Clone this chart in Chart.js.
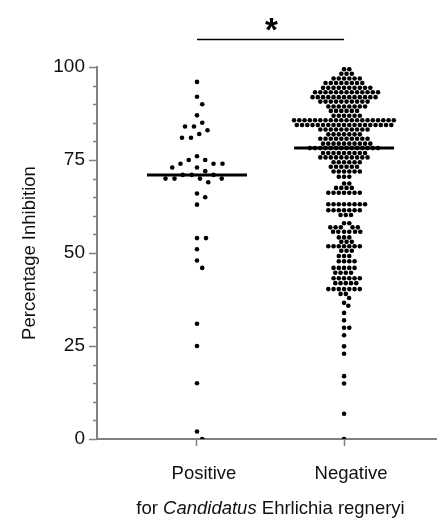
<!DOCTYPE html>
<html>
<head>
<meta charset="utf-8">
<script src="https://cdn.jsdelivr.net/npm/chart.js@4"></script>
<style>
  body { margin: 0; background: #fff; }
  canvas { display: block; }
</style>
</head>
<body>
<canvas id="dotChart" width="439" height="520"></canvas>
<script>
// groups on the x axis
const groups = ['Positive', 'Negative'];

// percentage inhibition
const positiveValues = [
  96, 92, 90, 87, 85, 84, 84, 83, 82, 81, 81,
  76, 75, 75, 74, 74, 74, 73, 73, 72, 71, 71, 71,
  70, 70, 70, 70, 69, 66, 65, 63,
  54, 54, 51, 48, 46, 31, 25, 15, 2, 0
];

// negative group: [value, how many dots in that row]
const negativeRows = [
  [99.4, 2], [98.2, 3], [96.9, 6], [95.7, 8], [94.4, 10], [93.2, 13],
  [91.9, 13], [90.7, 10], [89.4, 8], [88.2, 6], [86.9, 6], [85.7, 20],
  [84.4, 19], [83.2, 10], [81.9, 7], [80.7, 10], [79.4, 10], [78.2, 14],
  [76.9, 9], [75.7, 10], [74.4, 6], [73.2, 6], [71.9, 6], [70.5, 3],
  [68.7, 2], [67.5, 4], [66.2, 7], [63.1, 8], [61.5, 7], [60.2, 3],
  [58, 2], [56.9, 5], [55.7, 6], [54.2, 3], [53, 3], [51.8, 7],
  [50.6, 3], [49.2, 3], [47.8, 4], [46, 5], [44.7, 4],
  [43.2, 6], [41.9, 5], [40.3, 7], [39, 2], [37.9, 1], [36.6, 1],
  [35.8, 1], [33.9, 1], [31.9, 1], [29.9, 2], [27.9, 1], [24.9, 1],
  [22.9, 1], [16.9, 1], [14.9, 1], [6.8, 1], [0, 1]
];
const negativeValues = [];
negativeRows.forEach(([v, n]) => { for (let i = 0; i < n; i++) negativeValues.push(v); });

const yTickLabels = [0, 25, 50, 75, 100];

const axisGray = '#808080';
const textColor = '#111';
const fontFamily = "'Liberation Sans', Arial, sans-serif";
const fontSize = 18.5;

function median(arr) {
  const s = [...arr].sort((a, b) => a - b);
  const m = Math.floor(s.length / 2);
  return s.length % 2 ? s[m] : (s[m - 1] + s[m]) / 2;
}

// simple beeswarm: sorted from the top, each dot goes to the nearest free spot
function swarm(values, center, xScale, yScale, gap) {
  const pxPerUnit = xScale.getPixelForValue(center + 1) - xScale.getPixelForValue(center);
  const order = values.map((v, i) => i).sort((a, b) => values[b] - values[a]);
  const placed = [];
  const out = new Array(values.length);
  for (const i of order) {
    const py = yScale.getPixelForValue(values[i]);
    let dx = 0;
    for (let k = 0; k < 2000; k++) {
      const cand = (k % 2 ? 1 : -1) * Math.ceil(k / 2) * 0.25;
      const hit = placed.some(p => (p.x - cand) ** 2 + (p.y - py) ** 2 < gap * gap);
      if (!hit) { dx = cand; break; }
    }
    placed.push({ x: dx, y: py });
    out[i] = { x: center + dx / pxPerUnit, y: values[i] };
  }
  return out;
}

const extras = {
  id: 'extras',
  afterDatasetsDraw(chart) {
    const { ctx, scales: { x, y } } = chart;
    ctx.save();
    // y ticks, long ones at the labels
    ctx.strokeStyle = axisGray;
    ctx.lineWidth = 1.5;
    y.ticks.forEach(t => {
      const py = Math.round(y.getPixelForValue(t.value)) + 0.5;
      const len = t.value % 25 === 0 ? 8 : 4;
      ctx.beginPath();
      ctx.moveTo(y.right - len, py);
      ctx.lineTo(y.right, py);
      ctx.stroke();
    });
    // medians
    ctx.strokeStyle = '#000';
    ctx.lineWidth = 3;
    [positiveValues, negativeValues].forEach((vals, i) => {
      const cx = x.getPixelForValue(i + 1);
      const py = y.getPixelForValue(median(vals));
      ctx.beginPath();
      ctx.moveTo(cx - 50, py);
      ctx.lineTo(cx + 50, py);
      ctx.stroke();
    });
    // significance bar
    const x1 = x.getPixelForValue(1), x2 = x.getPixelForValue(2);
    ctx.lineWidth = 1.5;
    ctx.beginPath();
    ctx.moveTo(x1, 39.5);
    ctx.lineTo(x2, 39.5);
    ctx.stroke();
    ctx.fillStyle = '#000';
    ctx.font = 'bold 33px ' + fontFamily;
    ctx.textAlign = 'center';
    ctx.textBaseline = 'alphabetic';
    ctx.fillText('*', (x1 + x2) / 2 + 1, 41);
    // x axis title, part of it in italics
    const parts = [['for ', ''], ['Candidatus', 'italic '], [' Ehrlichia regneryi', '']];
    let total = 0;
    parts.forEach(([s, st]) => { ctx.font = st + fontSize + 'px ' + fontFamily; total += ctx.measureText(s).width; });
    let tx = (x1 + x2) / 2 - total / 2;
    ctx.fillStyle = textColor;
    ctx.textAlign = 'left';
    parts.forEach(([s, st]) => {
      ctx.font = st + fontSize + 'px ' + fontFamily;
      ctx.fillText(s, tx, 514);
      tx += ctx.measureText(s).width;
    });
    ctx.restore();
  }
};

const chart = new Chart(document.getElementById('dotChart'), {
  type: 'scatter',
  data: {
    datasets: [
      { label: groups[0], data: positiveValues.map(v => ({ x: 1, y: v })) },
      { label: groups[1], data: negativeValues.map(v => ({ x: 2, y: v })) }
    ]
  },
  options: {
    responsive: false,
    animation: false,
    layout: { padding: { top: 67, left: 0, right: 0, bottom: 0 } },
    elements: {
      point: { radius: 2.3, backgroundColor: '#000', borderWidth: 0, hoverRadius: 2.3 }
    },
    plugins: { legend: { display: false }, tooltip: { enabled: false } },
    scales: {
      x: {
        type: 'linear',
        min: 0.32,
        max: 2.63,
        afterBuildTicks: s => { s.ticks = groups.map((g, i) => ({ value: i + 1 })); },
        afterFit: s => { s.height = 81; },
        border: { color: axisGray, width: 2 },
        grid: { drawOnChartArea: false, tickLength: 7, tickColor: axisGray, tickWidth: 1.5 },
        ticks: {
          autoSkip: false,
          maxRotation: 0,
          padding: 17,
          labelOffset: 7,
          color: textColor,
          font: { family: fontFamily, size: fontSize },
          callback: v => groups[v - 1] || ''
        }
      },
      y: {
        min: 0,
        max: 100,
        afterFit: s => { s.width = 97; },
        border: { color: axisGray, width: 2 },
        grid: { display: true, drawOnChartArea: false, drawTicks: false },
        title: {
          display: true,
          text: 'Percentage Inhibition',
          color: textColor,
          font: { family: fontFamily, size: fontSize },
          padding: { top: 19, bottom: 0 }
        },
        ticks: {
          stepSize: 5,
          autoSkip: false,
          padding: 12,
          color: textColor,
          font: { family: fontFamily, size: 19 },
          callback: v => yTickLabels.includes(v) ? String(v) : ''
        }
      }
    }
  },
  plugins: [extras]
});

// lay the dots out side by side once the scales exist
chart.data.datasets[0].data = swarm(positiveValues, 1, chart.scales.x, chart.scales.y, 9);
chart.data.datasets[1].data = swarm(negativeValues, 2, chart.scales.x, chart.scales.y, 5.1);
chart.update('none');
</script>
</body>
</html>
